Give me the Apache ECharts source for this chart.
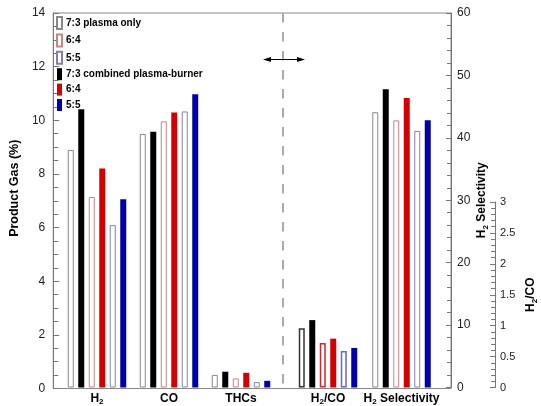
<!DOCTYPE html>
<html><head><meta charset="utf-8">
<script src="https://cdn.jsdelivr.net/npm/echarts@6/dist/echarts.min.js"></script>
<style>html,body{margin:0;padding:0;background:#fff}#c{width:541px;height:406px}</style>
</head><body><div id="c"></div>
<script>
// ---- data ----
const categories = ['H2', 'CO', 'THCs', 'H2/CO', 'H2 Selectivity'];
const plasma73 = [8.88, 9.48, 0.47, 0.96, 44.1];
const comb73   = [10.40, 9.56, 0.59, 1.09, 47.8];
const plasma64 = [7.12, 9.95, 0.34, 0.72, 42.8];
const comb64   = [8.19, 10.28, 0.55, 0.79, 46.4];
const plasma55 = [6.07, 10.32, 0.20, 0.59, 41.1];
const comb55   = [7.04, 10.96, 0.25, 0.64, 42.8];
const seriesKeys   = ['p73', 'c73', 'p64', 'c64', 'p55', 'c55'];
const seriesValues = [plasma73, comb73, plasma64, comb64, plasma55, comb55];
const legendOrder  = ['p73', 'p64', 'p55', 'c73', 'c64', 'c55'];
const legendLabels = ['7:3 plasma only', '6:4', '5:5', '7:3 combined plasma-burner', '6:4', '5:5'];

// ---- styles ----
const FONT = 'Liberation Sans, Arial, sans-serif';
const AX = '#777';
const styles = {
  p73: { color: '#ffffff', borderColor: '#888888', borderWidth: 1, strong: '#333333' },
  c73: { color: '#000000', borderColor: '#000000', borderWidth: 0 },
  p64: { color: '#ffffff', borderColor: '#cc8080', borderWidth: 1, strong: '#d02828' },
  c64: { color: '#d40000', borderColor: '#d40000', borderWidth: 0 },
  p55: { color: '#ffffff', borderColor: '#8080b0', borderWidth: 1, strong: '#6464dc' },
  c55: { color: '#0000a8', borderColor: '#0000a8', borderWidth: 0 }
};

function rich(s) {
  return '{b|' + s.replace('H2', 'H}{s|2}{b|') + '}';
}
const richStyles = {
  b: { fontSize: 12, fontWeight: 'bold', color: '#000', fontFamily: FONT, lineHeight: 14 },
  s: { fontSize: 8, fontWeight: 'bold', color: '#000', fontFamily: FONT, lineHeight: 14, padding: [7, 0, 0, 0] }
};

const TOP = 13, BOTTOM = 17.5;
const grids = [
  { left: 48, right: 90, top: TOP, bottom: BOTTOM, show: true, borderColor: '#888', borderWidth: 1, backgroundColor: 'transparent' },
  { left: 61, width: 216, top: TOP, bottom: BOTTOM },
  { left: 292, width: 72, top: 202, bottom: BOTTOM },
  { left: 365.5, width: 72, top: TOP, bottom: BOTTOM }
];

function catAxis(gi, cats) {
  return {
    type: 'category', gridIndex: gi, data: cats,
    axisLine: { show: false }, axisTick: { show: false },
    axisLabel: { margin: 4, interval: 0, formatter: v => rich(v), rich: richStyles }
  };
}
const labelStyle = { color: '#222', fontSize: 12, fontFamily: FONT };

const xAxes = [
  { type: 'category', gridIndex: 0, data: [''], show: false },
  catAxis(1, categories.slice(0, 3)),
  catAxis(2, categories.slice(3, 4)),
  catAxis(3, categories.slice(4, 5))
];
const yAxes = [
  {
    type: 'value', gridIndex: 0, min: 0, max: 14, interval: 2, position: 'left',
    name: 'Product Gas (%)', nameLocation: 'middle', nameGap: 24,
    nameTextStyle: { fontSize: 12.5, fontWeight: 'bold', color: '#000', fontFamily: FONT, padding: [0, 0, 0, 25] },
    axisLine: { show: true, lineStyle: { color: AX } },
    axisTick: { show: true, inside: true, length: 6, lineStyle: { color: AX } },
    minorTick: { show: true, splitNumber: 4, length: 5, lineStyle: { color: AX } },
    axisLabel: Object.assign({ margin: 8 }, labelStyle),
    splitLine: { show: false }
  },
  { type: 'value', gridIndex: 1, min: 0, max: 14, show: false, splitLine: { show: false } },
  {
    type: 'value', gridIndex: 2, min: 0, max: 3, interval: 0.5, position: 'right', offset: 131,
    name: rich('H2/CO'), nameLocation: 'middle', nameGap: 29, nameRotate: 90,
    nameTextStyle: { rich: richStyles },
    axisLine: { show: true, lineStyle: { color: AX } },
    axisTick: { show: true, inside: true, length: 5, lineStyle: { color: AX } },
    minorTick: { show: true, splitNumber: 5, length: 4, lineStyle: { color: AX } },
    axisLabel: Object.assign({ margin: 5 }, labelStyle, { fontSize: 11 }),
    splitLine: { show: false }
  },
  {
    type: 'value', gridIndex: 3, min: 0, max: 60, interval: 10, position: 'right', offset: 13.5,
    name: rich('H2 Selectivity'), nameLocation: 'middle', nameGap: 24, nameRotate: 90,
    nameTextStyle: { rich: richStyles },
    axisLine: { show: true, lineStyle: { color: AX } },
    axisTick: { show: true, inside: true, length: 5, lineStyle: { color: AX } },
    minorTick: { show: true, splitNumber: 5, length: 4, lineStyle: { color: AX } },
    axisLabel: Object.assign({ margin: 6 }, labelStyle),
    splitLine: { show: false }
  }
];

const series = [];
const parts = [
  { axis: 1, from: 0, to: 3, strong: false },
  { axis: 2, from: 3, to: 4, strong: true },
  { axis: 3, from: 4, to: 5, strong: false }
];
parts.forEach(p => {
  seriesKeys.forEach((k, i) => {
    const st = styles[k];
    const open = st.borderWidth > 0;
    series.push({
      type: 'bar', name: k, xAxisIndex: p.axis, yAxisIndex: p.axis,
      data: seriesValues[i].slice(p.from, p.to),
      barWidth: 6, barGap: '75%',
      itemStyle: {
        color: st.color,
        borderColor: (p.strong && open) ? st.strong : st.borderColor,
        borderWidth: open ? (p.strong ? 1.5 : 1) : 0
      },
      emphasis: { disabled: true },
      animation: false
    });
  });
});

const chart = echarts.init(document.getElementById('c'), null, { renderer: 'canvas' });
chart.setOption({
  backgroundColor: '#fff',
  animation: false,
  grid: grids,
  xAxis: xAxes,
  yAxis: yAxes,
  legend: {
    data: legendOrder, orient: 'vertical', left: 56, top: 16, padding: 0,
    itemWidth: 5, itemHeight: 12, itemGap: 3.4, icon: 'rect', selectedMode: false,
    formatter: n => legendLabels[legendOrder.indexOf(n)],
    textStyle: { fontSize: 10, fontWeight: 'bold', color: '#000', fontFamily: FONT, padding: [0, 0, 0, -1] }
  },
  graphic: [
    { type: 'line', silent: true, shape: { x1: 283, y1: 13, x2: 283, y2: 388 },
      style: { stroke: '#aaaaaa', lineWidth: 2, lineDash: [9.5, 9.5] } },
    { type: 'line', silent: true, shape: { x1: 266, y1: 59.5, x2: 302, y2: 59.5 },
      style: { stroke: '#000', lineWidth: 1 } },
    { type: 'polygon', silent: true, shape: { points: [[263, 59.5], [271, 57], [271, 62]] }, style: { fill: '#000' } },
    { type: 'polygon', silent: true, shape: { points: [[305, 59.5], [297, 57], [297, 62]] }, style: { fill: '#000' } }
  ],
  series: series
});
</script>
</body></html>
